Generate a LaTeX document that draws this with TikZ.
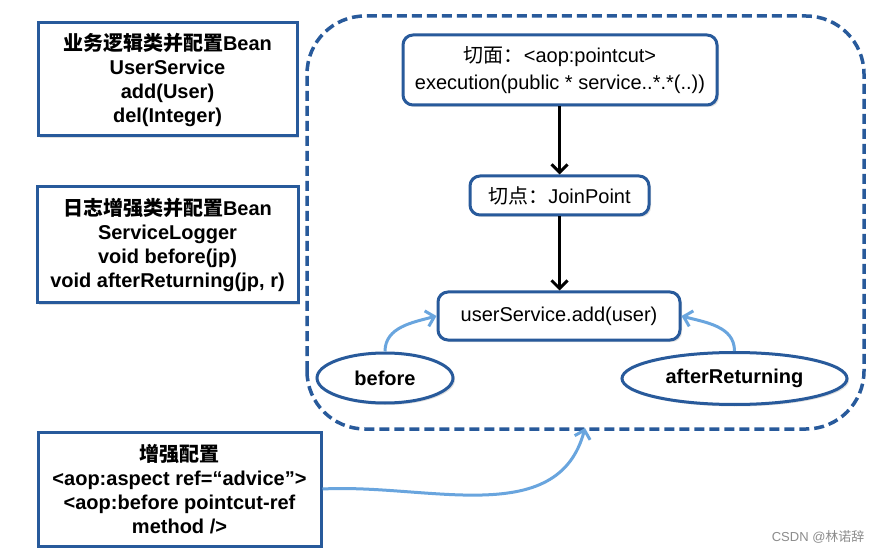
\documentclass[tikz,border=0pt]{standalone}
\usepackage{fontspec}
\setmainfont{Liberation Sans}
\newfontfamily\cjk{Noto Sans CJK SC}
\usetikzlibrary{arrows.meta,shadows,shapes.geometric}
\definecolor{dblue}{RGB}{40,90,155}
\definecolor{lblue}{RGB}{105,165,222}
\tikzset{
  leftbox/.style={draw=dblue,line width=3pt,fill=white,align=center,
    font=\fontsize{20}{24}\selectfont\bfseries,inner sep=0pt,
    drop shadow={shadow xshift=2pt,shadow yshift=-2pt,opacity=0.25}},
  innerbox/.style={draw=dblue,line width=3pt,fill=white,align=center,rounded corners=10pt,
    font=\fontsize{20}{27}\selectfont,inner sep=0pt,
    drop shadow={shadow xshift=2pt,shadow yshift=-2pt,opacity=0.25}},
  advice/.style={ellipse,draw=dblue,line width=3pt,fill=white,inner sep=0pt,
    font=\fontsize{20}{24}\selectfont\bfseries,
    drop shadow={shadow xshift=2pt,shadow yshift=-2pt,opacity=0.25}},
  blackarrow/.style={line width=3pt,-{Straight Barb[length=8pt,width=16pt,line width=3pt]}},
  bluearrow/.style={draw=lblue,line width=3pt,-{Straight Barb[length=8pt,width=16pt,line width=3pt]}},
  container/.style={draw=dblue,line width=3.5pt,dash pattern=on 10pt off 5pt,rounded corners=58pt}
}
\begin{document}
\begin{tikzpicture}[x=1pt,y=1pt]
\useasboundingbox (0,0) rectangle (881,555);
\fill[white] (0,0) rectangle (881,555);
% container
\draw[container] (307,126) rectangle (864,539);
\coordinate (cbot) at (585,127);
% left boxes
\node[leftbox,minimum width=259pt,minimum height=113pt] (biz) at (167.5,475.5)
  {{\cjk 业务逻辑类并配置}Bean\\UserService\\add(User)\\del(Integer)};
\node[leftbox,minimum width=261pt,minimum height=116pt] (log) at (167.5,310)
  {{\cjk 日志增强类并配置}Bean\\ServiceLogger\\void before(jp)\\void afterReturning(jp, r)};
\node[leftbox,minimum width=283pt,minimum height=114pt] (cfg) at (179.5,66)
  {{\cjk 增强配置}\\<aop:aspect ref=“advice”>\\<aop:before pointcut-ref\\method />};
% inner boxes
\node[innerbox,minimum width=314pt,minimum height=70pt] (aspect) at (560,485)
  {{\cjk 切面：}<aop:pointcut>\\execution(public * service..*.*(..))};
\node[innerbox,minimum width=179pt,minimum height=39pt] (jp) at (559.5,359.5)
  {{\cjk 切点：}JoinPoint};
\node[innerbox,minimum width=242pt,minimum height=48pt] (us) at (559,239)
  {userService.add(user)};
\node[advice,minimum width=136pt,minimum height=50pt] (bf) at (385,177) {before};
\node[advice,minimum width=225pt,minimum height=52pt] (ar) at (734.5,176.5) {afterReturning};
% arrows
\draw[blackarrow] (aspect.south -| jp.north) -- (jp.north);
\draw[blackarrow] (jp.south) -- (us.north -| jp.south);
\draw[bluearrow] (bf.north) to[out=90,in=195] (us.west);
\draw[bluearrow] (ar.north) to[out=90,in=-15] (us.east);
\draw[bluearrow] (cfg.east) to[out=3,in=-105] (cbot);
% watermark
\node[text=black!45,font=\fontsize{13}{15}\selectfont,anchor=east] (wm) at (868,18) {CSDN @{\cjk 林诺辞}};
\end{tikzpicture}
\end{document}
